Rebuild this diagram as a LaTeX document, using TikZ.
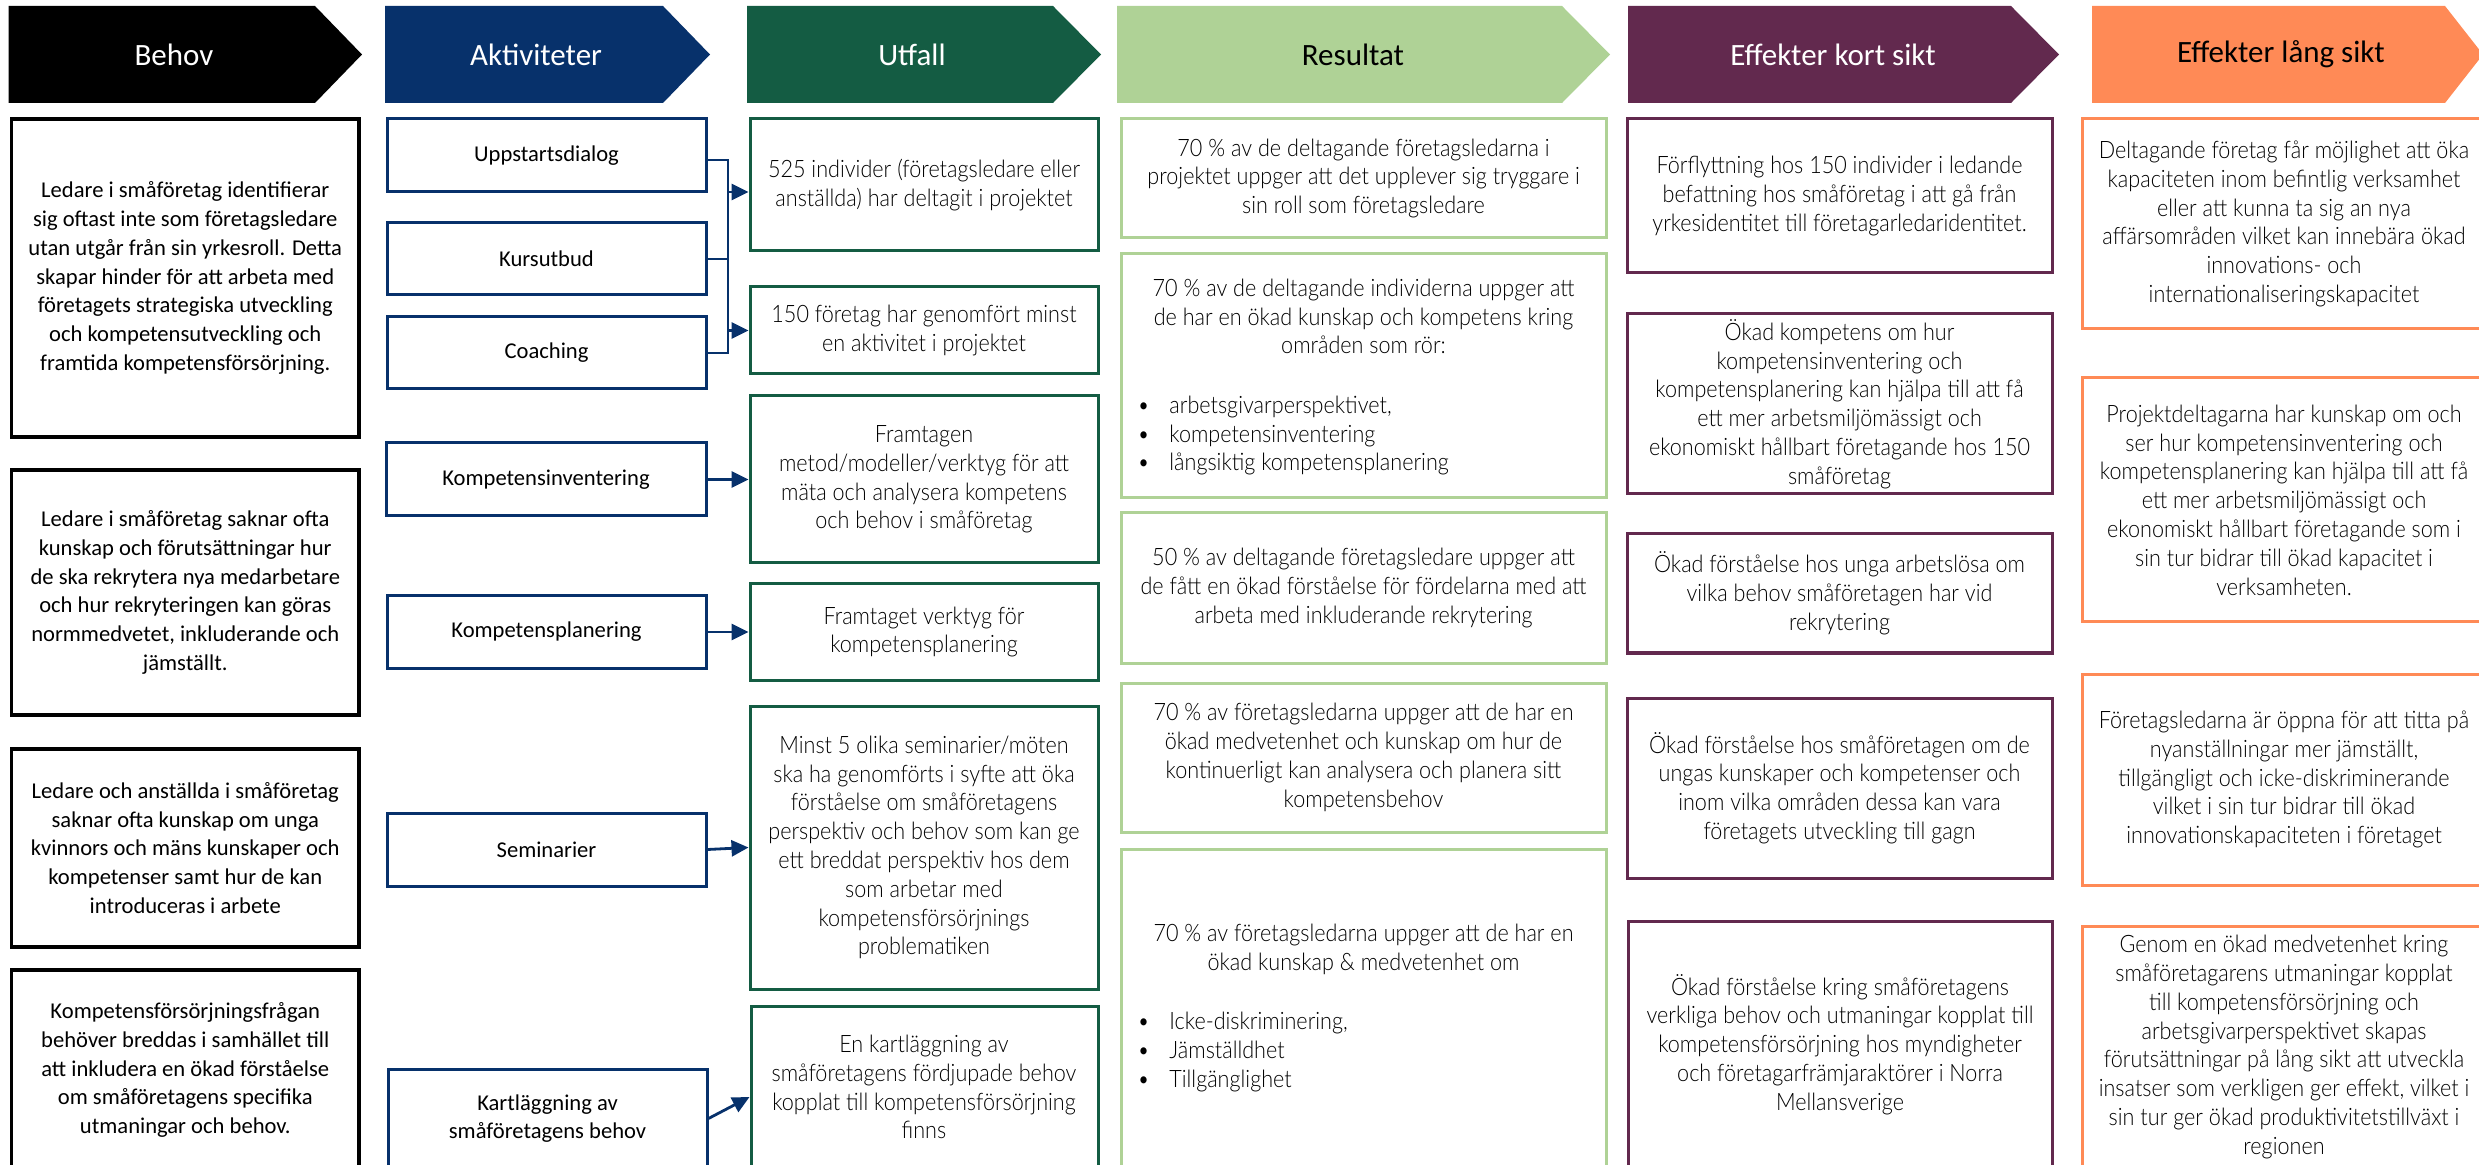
\documentclass[tikz,border=0pt]{standalone}
\usepackage{fontspec}
\setmainfont{Lato Light}[FakeStretch=0.9]
\newfontfamily\calfont{Carlito}
\usetikzlibrary{arrows.meta,fit}
\definecolor{aktblue}{RGB}{7,49,107}
\definecolor{utgreen}{RGB}{20,92,67}
\definecolor{resgreen}{RGB}{175,210,150}
\definecolor{ekplum}{RGB}{98,41,78}
\definecolor{elorange}{RGB}{255,138,86}
\newcommand{\mybul}{\makebox[16pt][l]{•}}
\newcommand{\bx}[7]{\node[#1, fit={(#3,#4) (#5,#6)}] (#2) {};\node[#1t] (#2t) at (#2.center) {#7};}
\tikzset{
  htxt/.style={font=\calfont\fontsize{15.5}{18}\selectfont, inner sep=0pt},
  bxbase/.style={line width=1.5pt, inner sep=0pt},
  bbox/.style={bxbase, draw=black, line width=1.75pt},
  abox/.style={bxbase, draw=aktblue},
  ubox/.style={bxbase, draw=utgreen},
  rbox/.style={bxbase, draw=resgreen},
  kbox/.style={bxbase, draw=ekplum},
  lbox/.style={bxbase, draw=elorange},
  caltxt/.style={inner sep=0pt, align=center, font=\calfont\fontsize{11.3}{14.4}\selectfont},
  txt/.style={inner sep=0pt, align=center, font=\fontsize{12}{14.4}\selectfont},
  bboxt/.style={caltxt},
  aboxt/.style={caltxt},
  uboxt/.style={txt},
  rboxt/.style={txt},
  kboxt/.style={txt},
  lboxt/.style={txt},
  blist/.style={inner sep=0pt, align=left, anchor=west, font=\fontsize{12}{14.4}\selectfont},
  conn/.style={draw=aktblue, line width=1.4pt},
  arr/.style={conn, -{Triangle[length=8.5pt,width=8pt]}},
}
\begin{document}
\begin{tikzpicture}[x=0.5pt,y=-0.5pt]
\useasboundingbox (0,0) rectangle (2479,1165);
\clip (0,0) rectangle (2479,1165);
% headers
\fill[black] (8.7,6) -- (315,6) -- (362,54.5) -- (315,103) -- (8.7,103) -- cycle;
\fill[aktblue] (385,6) -- (663,6) -- (710,54.5) -- (663,103) -- (385,103) -- cycle;
\fill[utgreen] (747,6) -- (1053,6) -- (1101,54.5) -- (1053,103) -- (747,103) -- cycle;
\fill[resgreen] (1117,6) -- (1562,6) -- (1610,54.5) -- (1562,103) -- (1117,103) -- cycle;
\fill[ekplum] (1628,6) -- (2011,6) -- (2059,54.5) -- (2011,103) -- (1628,103) -- cycle;
\fill[elorange] (2092,6) -- (2445,6) -- (2483,54.5) -- (2445,103) -- (2092,103) -- cycle;
\node[htxt, text=white] (hbeh) at (174,54.5) {Behov};
\node[htxt, text=white] (hakt) at (536,54.5) {Aktiviteter};
\node[htxt, text=white] (hutf) at (912,54.5) {Utfall};
\node[htxt, text=black] (hres) at (1353,54.5) {Resultat};
\node[htxt, text=white] (hek) at (1833,54.5) {Effekter kort sikt};
\node[htxt, text=black] (hel) at (2281,54.5) {Effekter lång sikt};
% Behov
\bx{bbox}{b1}{11.5}{119}{359}{437}{Ledare i småföretag identifierar\\sig oftast inte som företagsledare\\utan utgår från sin yrkesroll. Detta\\skapar hinder för att arbeta med\\företagets strategiska utveckling\\och kompetensutveckling och\\framtida kompetensförsörjning.}
\bx{bbox}{b2}{11.5}{470}{359}{715}{Ledare i småföretag saknar ofta\\kunskap och förutsättningar hur\\de ska rekrytera nya medarbetare\\och hur rekryteringen kan göras\\normmedvetet, inkluderande och\\jämställt.}
\bx{bbox}{b3}{11.5}{749}{359}{947}{Ledare och anställda i småföretag\\saknar ofta kunskap om unga\\kvinnors och mäns kunskaper och\\kompetenser samt hur de kan\\introduceras i arbete}
\bx{bbox}{b4}{11.5}{970}{359}{1170}{Kompetensförsörjningsfrågan\\behöver breddas i samhället till\\att inkludera en ökad förståelse\\om småföretagens specifika\\utmaningar och behov.}
% Aktiviteter
\bx{abox}{upp}{387}{119}{706}{192}{Uppstartsdialog}
\bx{abox}{kurs}{387}{223}{706}{295}{Kursutbud}
\bx{abox}{cch}{387}{317}{706}{389}{Coaching}
\bx{abox}{kinv}{386}{443}{706}{516}{Kompetensinventering}
\bx{abox}{kpl}{387}{596}{706}{668}{Kompetensplanering}
\bx{abox}{sem}{387}{813}{706}{886}{Seminarier}
\bx{abox}{kart}{388}{1069}{707}{1168}{Kartläggning av\\småföretagens behov}
% Utfall
\bx{ubox}{u1}{750}{119}{1098}{251}{525 individer (företagsledare eller\\anställda) har deltagit i projektet}
\bx{ubox}{u2}{750}{287}{1098}{374}{150 företag har genomfört minst\\en aktivitet i projektet}
\bx{ubox}{u3}{750}{396}{1098}{563}{Framtagen\\metod/modeller/verktyg för att\\mäta och analysera kompetens\\och behov i småföretag}
\bx{ubox}{u4}{750}{584}{1098}{680}{Framtaget verktyg för\\kompetensplanering}
\bx{ubox}{u5}{750}{706}{1098}{989}{Minst 5 olika seminarier/möten\\ska ha genomförts i syfte att öka\\förståelse om småföretagens\\perspektiv och behov som kan ge\\ett breddat perspektiv hos dem\\som arbetar med\\kompetensförsörjnings\\problematiken}
\node[ubox, fit={(751,1006) (1098,1188)}] (u6) {};
\node[txt] (u6t) at (924,1087) {En kartläggning av\\småföretagens fördjupade behov\\kopplat till kompetensförsörjning\\finns};
% connectors
\coordinate (bx) at (728,160);
\coordinate (a1) at (728,192);
\draw[conn] (upp.east |- bx) -- (bx) -- (cch.east -| bx) -- (cch.east);
\draw[conn] (kurs.east) -- (kurs.east -| bx);
\draw[arr] (a1) -- (a1 -| u1.west);
\draw[arr] (bx |- u2.west) -- (u2.west);
\draw[arr] (kinv.east) -- (u3.west);
\draw[arr] (kpl.east) -- (u4.west);
\draw[arr] (sem.east) -- (u5.west);
\draw[arr] (kart.east) -- (u6.west);
% Resultat
\bx{rbox}{r1}{1121}{119}{1606}{238}{70 \% av de deltagande företagsledarna i\\projektet uppger att det upplever sig tryggare i\\sin roll som företagsledare}
\node[rbox, fit={(1121,254) (1606,498)}] (r2) {};
\node[txt] (r2t) at (1363.5,316.5) {70 \% av de deltagande individerna uppger att\\de har en ökad kunskap och kompetens kring\\områden som rör:};
\node[blist] (r2l) at (1137,435.5) {\mybul arbetsgivarperspektivet,\\\mybul kompetensinventering\\\mybul långsiktig kompetensplanering};
\bx{rbox}{r3}{1121}{513}{1606}{663}{50 \% av deltagande företagsledare uppger att\\de fått en ökad förståelse för fördelarna med att\\arbeta med inkluderande rekrytering}
\bx{rbox}{r4}{1121}{683}{1606}{832}{70 \% av företagsledarna uppger att de har en\\ökad medvetenhet och kunskap om hur de\\kontinuerligt kan analysera och planera sitt\\kompetensbehov}
\node[rbox, fit={(1121,849) (1606,1180)}] (r5) {};
\node[txt] (r5t) at (1363.5,949) {70 \% av företagsledarna uppger att de har en\\ökad kunskap \& medvetenhet om};
\node[blist] (r5l) at (1137,1052) {\mybul Icke-diskriminering,\\\mybul Jämställdhet\\\mybul Tillgänglighet};
% Effekter kort sikt
\bx{kbox}{k1}{1627}{119}{2052}{273}{Förflyttning hos 150 individer i ledande\\befattning hos småföretag i att gå från\\yrkesidentitet till företagarledaridentitet.}
\bx{kbox}{k2}{1627}{314}{2052}{494}{Ökad kompetens om hur\\kompetensinventering och\\kompetensplanering kan hjälpa till att få\\ett mer arbetsmiljömässigt och\\ekonomiskt hållbart företagande hos 150\\småföretag}
\bx{kbox}{k3}{1627}{534}{2052}{653}{Ökad förståelse hos unga arbetslösa om\\vilka behov småföretagen har vid\\rekrytering}
\bx{kbox}{k4}{1627}{698}{2052}{878}{Ökad förståelse hos småföretagen om de\\ungas kunskaper och kompetenser och\\inom vilka områden dessa kan vara\\företagets utveckling till gagn}
\bx{kbox}{k5}{1628}{921}{2052}{1168}{Ökad förståelse kring småföretagens\\verkliga behov och utmaningar kopplat till\\kompetensförsörjning hos myndigheter\\och företagarfrämjaraktörer i Norra\\Mellansverige}
% Effekter lång sikt
\bx{lbox}{l1}{2082}{119}{2486}{329}{Deltagande företag får möjlighet att öka\\kapaciteten inom befintlig verksamhet\\eller att kunna ta sig an nya\\affärsområden vilket kan innebära ökad\\innovations- och\\internationaliseringskapacitet}
\bx{lbox}{l2}{2082}{378}{2486}{622}{Projektdeltagarna har kunskap om och\\ser hur kompetensinventering och\\kompetensplanering kan hjälpa till att få\\ett mer arbetsmiljömässigt och\\ekonomiskt hållbart företagande som i\\sin tur bidrar till ökad kapacitet i\\verksamheten.}
\bx{lbox}{l3}{2082}{674}{2486}{885}{Företagsledarna är öppna för att titta på\\nyanställningar mer jämställt,\\tillgängligt och icke-diskriminerande\\vilket i sin tur bidrar till ökad\\innovationskapaciteten i företaget}
\bx{lbox}{l4}{2082}{926}{2486}{1168}{Genom en ökad medvetenhet kring\\småföretagarens utmaningar kopplat\\till kompetensförsörjning och\\arbetsgivarperspektivet skapas\\förutsättningar på lång sikt att utveckla\\insatser som verkligen ger effekt, vilket i\\sin tur ger ökad produktivitetstillväxt i\\regionen}
\end{tikzpicture}
\end{document}
